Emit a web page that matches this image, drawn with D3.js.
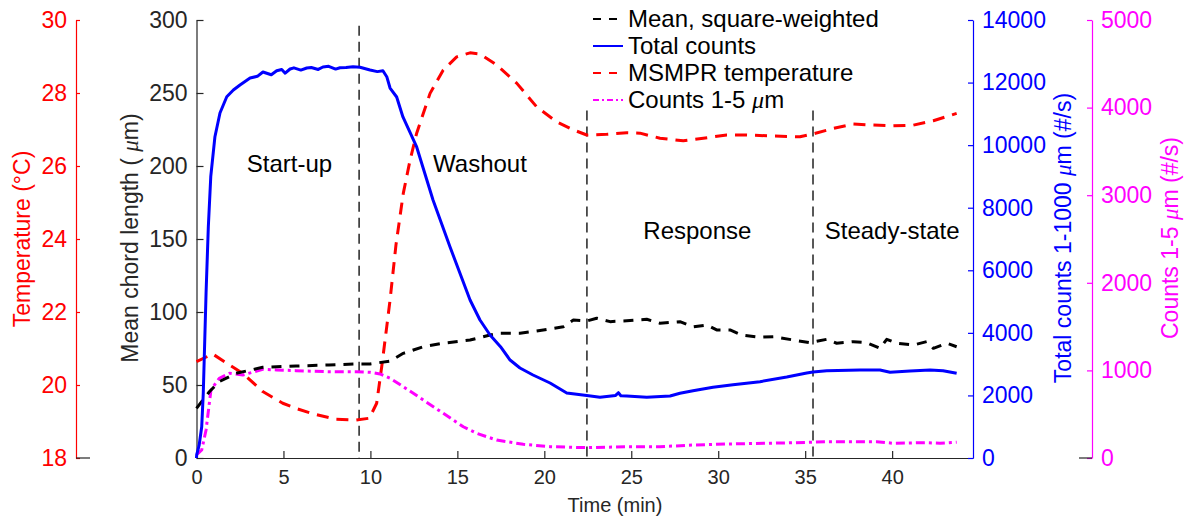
<!DOCTYPE html>
<html><head><meta charset="utf-8">
<script src="https://cdn.jsdelivr.net/npm/d3@7"></script>
<style>
body{margin:0;background:#fff}
text{font-family:"Liberation Sans",Arial,Helvetica,sans-serif}
</style>
</head><body>
<svg id="chart" width="1184" height="520"></svg>
<script>
// ---------------- data ----------------
const xTickValues = [0,5,10,15,20,25,30,35,40];
const meanTicks = [0,50,100,150,200,250,300];
const tempTicks = [18,20,22,24,26,28,30];
const totalTicks = [0,2000,4000,6000,8000,10000,12000,14000];
const fineTicks = [0,1000,2000,3000,4000,5000];

// Total counts 1-1000 um (#/s)
const totalTime = [0,0.01,0.15,0.30,0.39,0.55,0.68,0.82,1.06,1.35,1.74,2.12,2.50,3.08,3.50,3.82,4.30,4.61,4.90,5.10,5.38,5.60,6.00,6.34,6.60,7.00,7.27,7.60,8.00,8.25,8.60,9.00,9.40,9.98,10.40,10.72,10.94,11.13,11.51,11.87,12.66,13.60,14.58,15.73,16.30,16.88,17.48,18.03,18.60,19.35,20.33,21.29,22.44,23.20,24.10,24.26,24.40,24.74,25.89,27.23,27.80,28.55,29.70,30.85,32.40,33.94,35.09,35.45,36.24,38.15,39.30,39.88,41.03,42.18,42.93,43.71];
const totalCounts = [0,96,400,1000,2078,5274,7393,8991,10270,11027,11548,11762,11922,12146,12200,12338,12250,12379,12420,12300,12434,12470,12400,12466,12480,12420,12498,12520,12430,12475,12480,12507,12488,12402,12350,12379,12188,11826,11539,10900,9941,8247,6744,5050,4411,3931,3558,3132,2877,2653,2397,2078,1998,1940,2000,2087,1990,1982,1940,1982,2068,2151,2260,2343,2439,2589,2717,2749,2790,2813,2813,2739,2781,2813,2790,2707];

// MSMPR temperature (deg C)
const tempTime = [0,0.93,1.89,2.66,3.81,4.96,5.72,6.68,8.02,9.17,9.94,10.36,10.65,10.94,11.13,11.47,11.89,12.28,12.66,13.43,14.19,14.96,15.73,16.30,17.26,18.41,19.56,20.71,21.67,22.44,23.59,24.74,25.50,26.65,27.99,29.14,30.49,31.64,33.17,34.70,35.47,36.62,37.77,38.92,40.07,41.22,42.37,43.71];
const temperature = [20.64,20.85,20.55,20.32,19.82,19.50,19.36,19.21,19.06,19.04,19.09,19.50,20.50,21.60,22.33,23.84,25.25,26.16,26.90,27.99,28.63,28.99,29.10,29.07,28.77,28.27,27.62,27.21,26.99,26.85,26.87,26.91,26.90,26.76,26.69,26.76,26.85,26.85,26.82,26.80,26.88,27.03,27.15,27.12,27.10,27.12,27.24,27.44];

// Mean chord length, square-weighted (um)
const meanTime = [0,0.74,1.31,2.27,3.81,5.72,7.62,9.21,9.98,11.13,11.89,13.04,14.19,15.73,16.88,17.45,18.60,19.94,21.09,21.67,22.44,23.01,23.78,24.74,25.89,26.65,27.80,28.57,29.34,29.91,30.68,31.35,32.40,33.17,34.32,35.27,36.24,36.81,37.77,38.54,39.30,39.69,40.26,41.22,41.99,42.37,43.14,43.71];
const meanChord = [34.0,45.4,52.3,58.0,62.1,63.0,63.7,64.4,64.4,66.4,71.7,76.2,78.6,80.8,84.2,85.4,85.4,87.7,89.9,94.5,93.8,95.7,93.4,94.0,95.0,92.3,93.4,89.9,91.1,87.7,87.7,84.2,82.7,83.1,80.8,79.0,81.3,78.6,79.7,79.0,75.1,81.3,78.6,77.4,79.7,75.1,78.6,76.2];

// Counts 1-5 um (#/s)
const fineTime = [0,0.30,0.55,0.83,1.31,1.89,2.66,3.81,4.61,5.72,7.62,9.17,9.98,10.55,11.13,11.89,13.04,14.19,15.34,16.11,17.26,18.79,20.33,22.44,24.74,26.65,28.57,30.49,32.79,35.27,36.24,39.11,40.07,41.99,42.75,43.71];
const fineCounts = [34,91,320,776,910,967,947,1013,1005,997,985,985,978,959,910,814,662,510,357,282,205,156,129,118,129,129,148,160,168,179,186,186,168,175,168,179];

// phase boundaries (min) and labels
const phaseBounds = [9.35, 22.45, 35.45];
const phaseTopMean = [296, 238, 238];
const phaseNames = ["Start-up","Washout","Response","Steady-state"];
const phaseLabelTime = [5.35, 16.3, 28.8, 40.0];
const phaseLabelMean = [196, 196, 150, 150];

// ---------------- chart ----------------
const svg = d3.select("#chart");
const L = 196.5, R = 973, T = 20, B = 458;
const x = d3.scaleLinear().domain([0,44.65]).range([L,R]);
const yMean = d3.scaleLinear().domain([0,300]).range([B,T]);
const yTemp = d3.scaleLinear().domain([18,30]).range([B,T]);
const yTotal = d3.scaleLinear().domain([0,14000]).range([B,T]);
const yFine = d3.scaleLinear().domain([0,5000]).range([B,T]);

const RED="#ff0000", BLUE="#0000ff", MAG="#ff00ff", INK="#262626";
const fmt = d3.format("d");

function styleAxis(g, color, fs){
  g.selectAll("path.domain").attr("stroke", color).attr("stroke-width",1.2);
  g.selectAll(".tick line").attr("stroke", color).attr("stroke-width",1.2);
  g.selectAll(".tick text").attr("fill", color).style("font-size", fs+"px")
    .style("font-family",'"Liberation Sans",Arial,sans-serif');
}

// main axes
const gx = svg.append("g").attr("transform",`translate(0,${B})`)
  .call(d3.axisBottom(x).tickValues(xTickValues).tickFormat(fmt).tickSizeInner(-7).tickSizeOuter(0).tickPadding(12));
styleAxis(gx, INK, 20);
const gy = svg.append("g").attr("transform",`translate(${L},0)`)
  .call(d3.axisLeft(yMean).tickValues(meanTicks).tickFormat(fmt).tickSizeInner(-7).tickSizeOuter(0).tickPadding(9));
styleAxis(gy, INK, 23);

// temperature axis (offset left)
const gt = svg.append("g").attr("transform",`translate(76,0)`)
  .call(d3.axisLeft(yTemp).tickValues(tempTicks).tickFormat(fmt).tickSizeInner(-4).tickSizeOuter(0).tickPadding(9));
styleAxis(gt, RED, 23);
svg.append("line").attr("x1",76).attr("x2",90).attr("y1",B).attr("y2",B).attr("stroke",INK).attr("stroke-width",1.2);

// total counts axis (right)
const gb = svg.append("g").attr("transform",`translate(${R},0)`)
  .call(d3.axisRight(yTotal).tickValues(totalTicks).tickFormat(fmt).tickSizeInner(-5).tickSizeOuter(0).tickPadding(9));
styleAxis(gb, BLUE, 23);

// fine counts axis (offset right)
const gm = svg.append("g").attr("transform",`translate(1092,0)`)
  .call(d3.axisRight(yFine).tickValues(fineTicks).tickFormat(fmt).tickSizeInner(-5).tickSizeOuter(0).tickPadding(9));
styleAxis(gm, MAG, 23);
svg.append("line").attr("x1",1079).attr("x2",1092).attr("y1",B).attr("y2",B).attr("stroke",INK).attr("stroke-width",1.2);

// axis titles
function vTitle(cx, cy, color, parts){
  const t = svg.append("text").attr("transform",`translate(${cx},${cy}) rotate(-90)`)
    .attr("text-anchor","middle").attr("dy","0.35em").attr("fill",color).style("font-size","23px");
  parts.forEach(p=>{
    const s = t.append("tspan").text(p.t);
    if(p.mu) s.style("font-family",'"Liberation Serif","Times New Roman",serif').style("font-style","italic");
  });
}
vTitle(22, 239, RED, [{t:"Temperature (°C)"}]);
vTitle(130, 238, INK, [{t:"Mean chord length ( "},{t:"μ",mu:true},{t:"m)"}]);
vTitle(1063, 238, BLUE, [{t:"Total counts 1-1000 "},{t:"μ",mu:true},{t:"m (#/s)"}]);
vTitle(1170, 238, MAG, [{t:"Counts 1-5 "},{t:"μ",mu:true},{t:"m (#/s)"}]);
svg.append("text").attr("x",615).attr("y",512).attr("text-anchor","middle")
  .attr("fill",INK).style("font-size","20px").text("Time (min)");

// phase boundaries
phaseBounds.forEach((b,i)=>{
  svg.append("line").attr("x1",x(b)).attr("x2",x(b)).attr("y1",yMean(phaseTopMean[i])).attr("y2",B)
    .attr("stroke","#222").attr("stroke-width",1.5).attr("stroke-dasharray","10,6");
});
phaseNames.forEach((n,i)=>{
  svg.append("text").attr("x",x(phaseLabelTime[i])).attr("y",yMean(phaseLabelMean[i]))
    .attr("text-anchor","middle").attr("fill","#000").style("font-size","24px").text(n);
});

// series
function draw(xs, ys, yScale, color, dash){
  const pts = xs.map((t,i)=>[t, ys[i]]);
  svg.append("path").datum(pts)
    .attr("d", d3.line().x(d=>x(d[0])).y(d=>yScale(d[1])))
    .attr("fill","none").attr("stroke",color).attr("stroke-width",3)
    .attr("stroke-dasharray", dash).attr("stroke-linejoin","round");
}
draw(tempTime, temperature, yTemp, RED, "12,8");
draw(fineTime, fineCounts, yFine, MAG, "9,4,3,4");
draw(meanTime, meanChord, yMean, "#000", "10,8");
draw(totalTime, totalCounts, yTotal, BLUE, null);

// legend
const legend = [
  {name:"Mean, square-weighted", color:"#000", dash:"8,8"},
  {name:"Total counts", color:BLUE, dash:null},
  {name:"MSMPR temperature", color:RED, dash:"8,8"},
  {name:"Counts 1-5 ", mu:true, color:MAG, dash:"6,3,2,3"}
];
legend.forEach((d,i)=>{
  const yy = 19 + i*27;
  svg.append("line").attr("x1",593).attr("x2",623).attr("y1",yy).attr("y2",yy)
    .attr("stroke",d.color).attr("stroke-width",2).attr("stroke-dasharray",d.dash);
  const t = svg.append("text").attr("x",628).attr("y",yy).attr("dy","0.35em")
    .attr("fill","#000").style("font-size","24px");
  t.append("tspan").text(d.name);
  if(d.mu){
    t.append("tspan").text("μ").style("font-family",'"Liberation Serif",serif').style("font-style","italic");
    t.append("tspan").text("m");
  }
});
</script>
</body></html>
